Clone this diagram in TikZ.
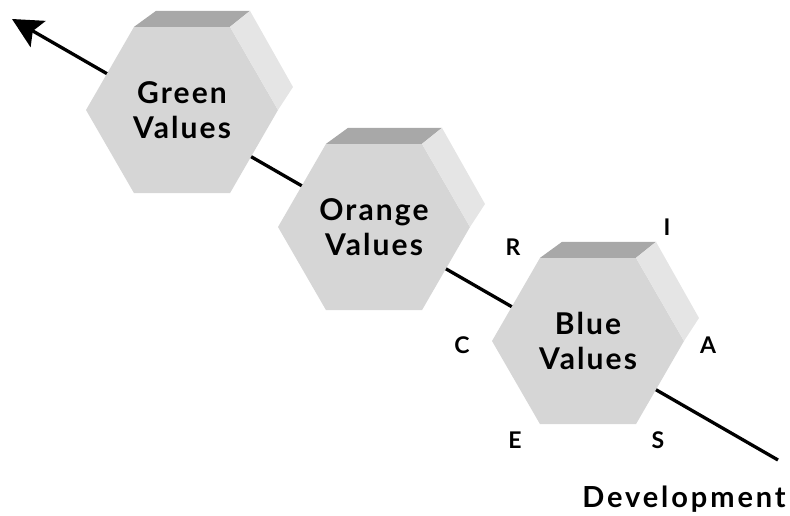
\documentclass[tikz,border=0pt]{standalone}
\usepackage{fontspec}
\setmainfont{Lato}
\newfontfamily\spacedfont[LetterSpace=7]{Lato}
\newfontfamily\widefont[LetterSpace=10]{Lato}
\usetikzlibrary{arrows.meta,shapes.geometric}

\definecolor{hexfront}{gray}{0.84}
\definecolor{hextop}{gray}{0.66}
\definecolor{hexside}{gray}{0.9}

\begin{document}
\begin{tikzpicture}[
			x=1pt,y=-1pt,
			>={Stealth[length=30pt,width=30pt,inset=6pt]},
			hexagon/.style={regular polygon,regular polygon sides=6,
				minimum size=192pt,inner sep=0pt,outer sep=0pt,fill=hexfront,
				font=\spacedfont\bfseries\fontsize{30}{35}\selectfont,align=center},
			topface/.style={fill=hextop},
			sideface/.style={fill=hexside},
			letter/.style={font=\bfseries\fontsize{23}{27}\selectfont}
		]
		\useasboundingbox (0,0) rectangle (790,515);

		\coordinate (devend) at (778,460);
		\coordinate (tip) at (12,19);
		\draw[->,line width=3.3pt] (devend) -- (tip);

		\node[hexagon] (green) at (182,110) {Green\\Values};
		\node[hexagon] (orange) at (374,227) {Orange\\Values};
		\node[hexagon] (blue) at (588,341) {Blue\\Values};

		% corner 2 = top left, corner 1 = top right, corner 6 = right
		\foreach \h in {green,orange,blue} {
			\fill[topface] (\h.corner 2) -- ([shift={(22,-16)}]\h.corner 2)
				-- ([shift={(20,-16)}]\h.corner 1) -- (\h.corner 1) -- cycle;
			\fill[sideface] (\h.corner 1) -- ([shift={(20,-16)}]\h.corner 1)
				-- ([shift={(15,-23)}]\h.corner 6) -- (\h.corner 6) -- cycle;
		}

		\node[letter] (r) at (513,247) {R};
		\node[letter] (i) at (667,227) {I};
		\node[letter] (c) at (462,345) {C};
		\node[letter] (a) at (708,345) {A};
		\node[letter] (e) at (515,440) {E};
		\node[letter] (s) at (658,440) {S};

		\node[anchor=base,font=\widefont\bfseries\fontsize{29}{34}\selectfont] (dev) at (684,507) {Development};
	\end{tikzpicture}
\end{document}
